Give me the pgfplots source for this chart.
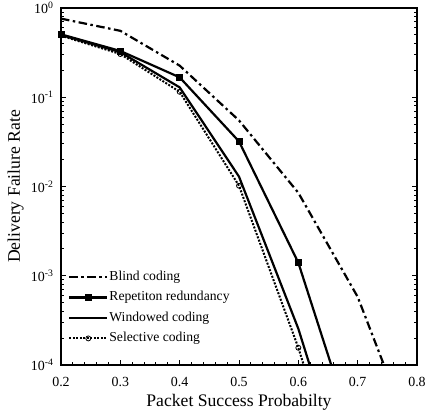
\documentclass[border=0pt]{standalone}
\usepackage{fontspec}
\setmainfont{Liberation Serif}
\usepackage{pgfplots}
\pgfplotsset{compat=1.18}

\begin{document}
\begin{tikzpicture}
\path[use as bounding box] (-61bp,-49bp) rectangle (364bp,365bp);
\begin{axis}[
  ymode=log,
  scale only axis,
  width=356bp, height=357bp,
  xmin=0.2, xmax=0.8, ymin=1e-4, ymax=1,
  xtick={0.2,0.3,0.4,0.5,0.6,0.7,0.8},
  xticklabels={0.2,0.3,0.4,0.5,0.6,0.7,0.8},
  minor x tick num=4,
  ytick={1e-4,1e-3,1e-2,1e-1,1},
  yticklabels={10\textsuperscript{-4},10\textsuperscript{-3},10\textsuperscript{-2},10\textsuperscript{-1},10\textsuperscript{0}},
  xtick pos=lower, ytick pos=both,
  tick align=inside,
  major tick length=5bp, minor tick length=3bp,
  axis line style={line width=1.3bp},
  tick style={black, line width=0.9bp},
  tick label style={font=\fontsize{14}{16}\selectfont},
  xticklabel style={yshift=-9bp},
  yticklabel style={xshift=-4bp},
  xlabel={Packet Success Probabilty},
  ylabel={Delivery Failure Rate},
  label style={font=\fontsize{17.7}{20}\selectfont},
  xlabel style={at={(axis description cs:0.5,-0.1176)}, anchor=base},
  ylabel style={at={(axis description cs:-0.1152,0.5)}, anchor=base},
  legend cell align=left,
  legend image code/.code={\draw[mark repeat=2,mark phase=2,#1] plot coordinates {(0bp,0bp) (19bp,0bp) (38bp,0bp)};},
  legend style={at={(axis description cs:0.0197,0.269)}, anchor=north west,
    draw=none, fill=none, inner sep=0pt, row sep=5bp,
    font=\fontsize{13.7}{15}\selectfont,
    nodes={inner sep=1bp, text height=10bp, text depth=3.5bp}},
]
% Blind coding
\addplot[black, line width=2.2bp, dash pattern=on 8.5bp off 3.5bp on 2.5bp off 3.5bp]
  coordinates {(0.2,0.76) (0.3,0.555) (0.4,0.226) (0.5,0.055) (0.6,0.0085) (0.7,5.8e-4) (0.8,1.1e-5)};
% Repetition redundancy
\addplot[black, line width=2.2bp, mark=square*, mark size=3bp, mark options={solid, line width=0.5bp}]
  coordinates {(0.2,0.507) (0.3,0.33) (0.4,0.167) (0.5,0.032) (0.6,0.0014) (0.7,1.2e-5)};
% Windowed coding
\addplot[black, line width=2.2bp]
  coordinates {(0.2,0.5) (0.3,0.32) (0.4,0.129) (0.5,0.0129) (0.6,2.55e-4) (0.7,1.9e-6)};
% Selective coding
\addplot[black, line width=2bp, dash pattern=on 2bp off 1.5bp, mark=o, mark size=2.5bp,
  mark options={solid, fill=white, line width=0.8bp}]
  coordinates {(0.2,0.49) (0.3,0.305) (0.4,0.115) (0.5,0.0102) (0.6,1.56e-4) (0.7,1.2e-6)};
\legend{Blind coding, Repetiton redundancy, Windowed coding, Selective coding}
\end{axis}
\end{tikzpicture}
\end{document}
